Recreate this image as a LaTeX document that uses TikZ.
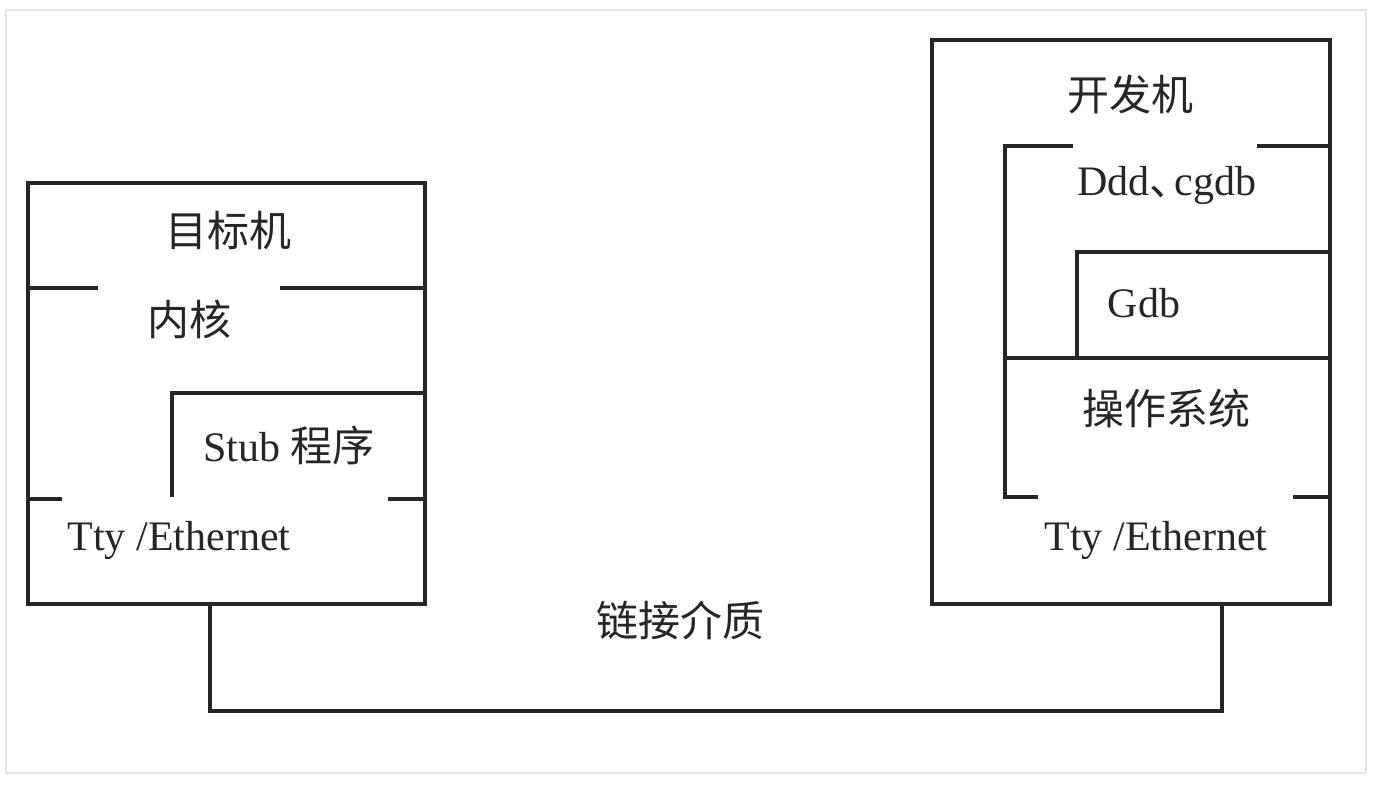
\documentclass[tikz,border=0pt]{standalone}
\usepackage{fontspec}
\setmainfont{Liberation Serif}
\newfontfamily\cjk{Noto Sans CJK SC}

\begin{document}
\begin{tikzpicture}[x=0.5pt, y=-0.5pt, line width=1.6pt, line join=miter, draw=black!85,
    lbl/.style={inner sep=0pt, text=black!85, font=\fontsize{21}{25}\selectfont},
    zh/.style={inner sep=0pt, text=black!85, font=\fontsize{21}{25}\selectfont\cjk}]

            \useasboundingbox (0,0) rectangle (1379,785);

            % Frame
            \draw[gray!20, line width=1pt] (6,10) rectangle (1366,773);

            % Target machine
            \draw (28,183) rectangle (425,604);
            \draw (28,288) -- (98,288) (280,288) -- (425,288);
            \draw (172,497) -- (172,393) -- (425,393);
            \draw (28,499) -- (62,499) (388,499) -- (425,499);
            \node[zh] (tgt) at (228,231) {目标机};
            \node[zh] (kernel) at (189,320) {内核};
            \node[lbl] (stub) at (289,445) {Stub {\cjk 程序}};
            \node[lbl] (tport) at (179,540) {Tty /Ethernet};

            % Development machine
            \draw (932,40) rectangle (1330,604);
            \draw (1073,146) -- (1005,146) -- (1005,497) -- (1038,497);
            \draw (1257,146) -- (1330,146) (1293,497) -- (1330,497);
            \draw (1077,358) -- (1077,252) -- (1330,252);
            \draw (1005,358) -- (1330,358);
            \node[zh] (dev) at (1130,95) {开发机};
            \node[lbl] (ddd) at (1167,185) {Ddd{\cjk 、\kern-0.4em}cgdb};
            \node[lbl] (gdb) at (1144,303) {Gdb};
            \node[zh] (os) at (1166,408) {操作系统};
            \node[lbl] (dport) at (1156,540) {Tty /Ethernet};

            % Link
            \coordinate (tlink) at (210,604);
            \coordinate (dlink) at (1222,604);
            \draw (tlink) -- ++(0,107) -| (dlink);
            \node[zh] (medium) at (680,620) {链接介质};

        \end{tikzpicture}
\end{document}
